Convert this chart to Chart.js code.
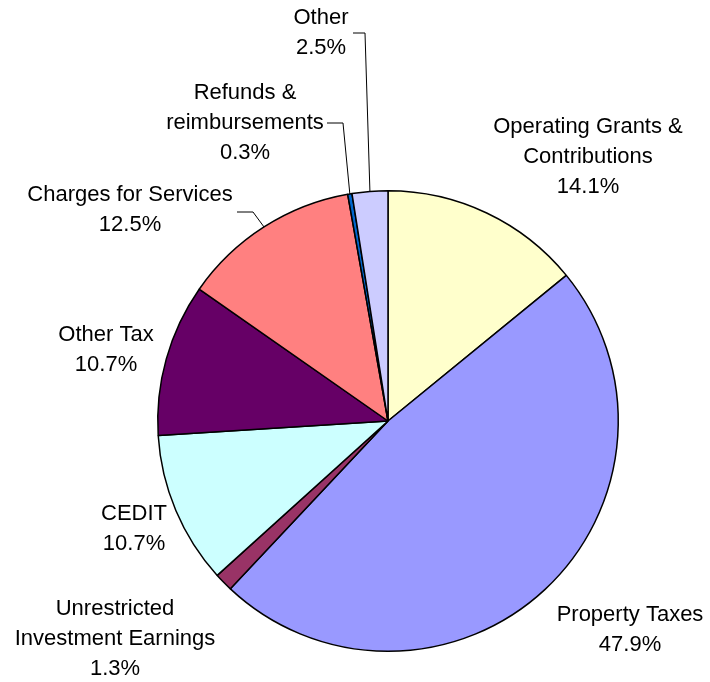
<!DOCTYPE html>
<html lang="en">
<head>
<meta charset="UTF-8">
<title>Revenue by Source</title>
<script src="https://cdn.jsdelivr.net/npm/chart.js@4.4.8/dist/chart.umd.min.js"></script>
<style>
  html, body { margin: 0; padding: 0; background: #fff; }
  #wrap { width: 710px; height: 682px; position: relative; }
</style>
</head>
<body>
<div id="wrap"><canvas id="pie"></canvas></div>
<script>
// data
const categories = ['Operating Grants & Contributions', 'Property Taxes', 'Unrestricted Investment Earnings',
  'CEDIT', 'Other Tax', 'Charges for Services', 'Refunds & reimbursements', 'Other'];
const shares = [14.1, 47.9, 1.3, 10.7, 10.7, 12.5, 0.3, 2.5];
const sliceColors = ['#FFFFCC', '#9999FF', '#993366', '#CCFFFF', '#660066', '#FF8080', '#0066CC', '#CCCCFF'];

// label text lines and where they sit (centre x, first line y); leader = elbow points
const labelLayout = [
  { lines: ['Operating Grants &', 'Contributions'], x: 588, y: 127 },
  { lines: ['Property Taxes'], x: 630, y: 615 },
  { lines: ['Unrestricted', 'Investment Earnings'], x: 115, y: 609 },
  { lines: ['CEDIT'], x: 134, y: 514 },
  { lines: ['Other Tax'], x: 106, y: 335 },
  { lines: ['Charges for Services'], x: 130, y: 195, leader: [[237, 212], [253, 212]] },
  { lines: ['Refunds &', 'reimbursements'], x: 245, y: 93, leader: [[327, 123], [343, 123]] },
  { lines: ['Other'], x: 321, y: 18, leader: [[353, 33], [365, 33]] }
];

const pieLabels = {
  id: 'pieLabels',
  afterDatasetsDraw(chart) {
    const ctx = chart.ctx;
    const meta = chart.getDatasetMeta(0);
    ctx.save();
    ctx.font = '22px "Liberation Sans", Arial, sans-serif';
    ctx.fillStyle = '#000';
    ctx.textAlign = 'center';
    ctx.textBaseline = 'middle';
    const lh = 30;
    meta.data.forEach((arc, i) => {
      const L = labelLayout[i];
      const lines = L.lines.concat([shares[i].toFixed(1) + '%']);
      lines.forEach((t, k) => ctx.fillText(t, L.x, L.y + k * lh));
      if (L.leader) {
        const p = arc.getProps(['x', 'y', 'startAngle', 'endAngle', 'outerRadius'], true);
        const mid = (p.startAngle + p.endAngle) / 2;
        const ex = p.x + Math.cos(mid) * p.outerRadius;
        const ey = p.y + Math.sin(mid) * p.outerRadius;
        ctx.beginPath();
        ctx.strokeStyle = '#000';
        ctx.lineWidth = 1;
        ctx.moveTo(L.leader[0][0], L.leader[0][1]);
        ctx.lineTo(L.leader[1][0], L.leader[1][1]);
        ctx.lineTo(ex, ey);
        ctx.stroke();
      }
    });
    ctx.restore();
  }
};

new Chart(document.getElementById('pie'), {
  type: 'pie',
  data: {
    labels: categories,
    datasets: [{
      data: shares,
      backgroundColor: sliceColors,
      borderColor: '#000',
      borderWidth: 1.5
    }]
  },
  options: {
    responsive: true,
    maintainAspectRatio: false,
    animation: false,
    layout: { padding: { left: 157, right: 91, top: 190, bottom: 30 } },
    plugins: {
      legend: { display: false },
      tooltip: { enabled: false }
    }
  },
  plugins: [pieLabels]
});
</script>
</body>
</html>
